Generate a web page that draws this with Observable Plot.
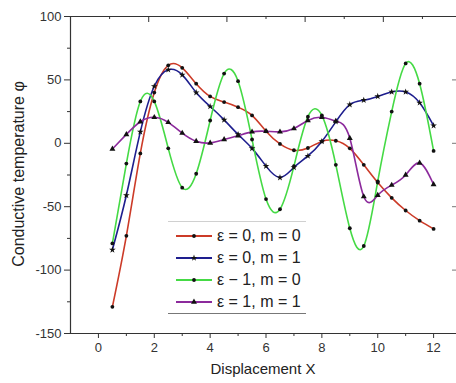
<!DOCTYPE html>
<html>
<head>
<meta charset="utf-8">
<script src="https://cdn.jsdelivr.net/npm/d3@7"></script>
<script src="https://cdn.jsdelivr.net/npm/@observablehq/plot@0.6"></script>
<style>
  html, body { margin: 0; padding: 0; background: #fff; }
  #wrap { position: relative; width: 456px; height: 383px; font-family: "Liberation Sans", Arial, sans-serif; }
  #legend { position: absolute; left: 168px; top: 221px; width: 138px; height: 91px;
            border-top: 1px solid #d0d0d0; border-bottom: 1px solid #777; }
  .row { position: absolute; left: 8px; height: 20px; display: flex; align-items: center; }
  .row span { font-size: 16px; color: #222; margin-left: 5px; white-space: nowrap; }
</style>
</head>
<body>
<div id="wrap"><div id="legend"></div></div>
<script>
// X positions of the sampled points
const xValues = [0.5, 1, 1.5, 2, 2.5, 3, 3.5, 4, 4.5, 5, 5.5, 6, 6.5, 7, 7.5, 8, 8.5, 9, 9.5, 10, 10.5, 11, 11.5, 12];

// Series values
const e0m0 = [-129, -73, -8, 40, 61.5, 59.5, 47, 37, 32.5, 28.5, 22, 9.5, -0.5, -5.5, -3.7, 1.5, 2, -4, -17, -31, -43, -53, -61, -67.5];
const e0m1 = [-84, -41, 9, 45, 58, 54, 40, 29, 18.5, 7, -4, -18, -27, -19, -10, 1.5, 17, 30.5, 34, 37, 40.5, 40.5, 32, 14];
const e1m0 = [-79, -16, 33, 33, -4, -35, -24, 18, 55, 49, 3, -44, -52, -18, 21, 22, -17, -67, -81, -30, 25, 63, 47, -6];
const e1m1 = [-4.5, 7, 17, 20.5, 16.5, 8, 1.6, 0.3, 3, 6, 9, 9.5, 9, 11.6, 18, 20.5, 17.5, 4, -42, -41, -33, -25, -15.5, -32.5];

const seriesNames = ["ε = 0, m = 0", "ε = 0, m = 1", "ε − 1, m = 0", "ε = 1, m = 1"];
const seriesColors = ["#cc3b28", "#1e1e8e", "#45da45", "#8c2a9c"];
const seriesSymbols = ["circle", "star", "circle", "triangle"];
const seriesRadius = [1.9, 2.1, 1.9, 2.2];

const xTicks = [0, 2, 4, 6, 8, 10, 12];
const xMinorTicks = [1, 3, 5, 7, 9, 11];
const yTicks = [-150, -100, -50, 0, 50, 100];
const yMinorTicks = [-125, -75, -25, 25, 75];
const yRightTicks = [-100, -50, 0, 50];
const topMajorTicks = [1.8, 4.6, 7.4, 10.2];
const topMinorTicks = [0.4, 3.2, 6.0, 8.8, 11.6];

const allSeries = [e0m0, e0m1, e1m0, e1m1];
const rows = [];
allSeries.forEach((vals, s) => vals.forEach((v, i) => rows.push({x: xValues[i], y: v, s})));

const font = "Liberation Sans, Arial, sans-serif";
const axisColor = "#333";
const W = 456, H = 383, mT = 16, mB = 50, mL = 70, mR = 0;
const plotH = H - mT - mB, plotW = W - mL - mR;

const marks = [
  Plot.ruleX([-1], {stroke: axisColor, strokeWidth: 1.2}),
  Plot.ruleY([-150], {stroke: axisColor, strokeWidth: 1.2}),
  Plot.ruleY([100], {stroke: axisColor, strokeWidth: 1.2}),
  Plot.axisY({ticks: yTicks, tickSize: 6, tickPadding: 3, fontSize: 13, label: null, color: axisColor, tickFormat: d => d < 0 ? "-" + Math.abs(d) : String(d)}),
  Plot.axisY({ticks: yMinorTicks, tickSize: 3, tickFormat: () => "", label: null, color: axisColor}),
  Plot.axisX({ticks: xTicks, tickSize: 5, tickPadding: 4, fontSize: 13, label: null, color: axisColor}),
  Plot.axisX({ticks: xMinorTicks, tickSize: 3, tickFormat: () => "", label: null, color: axisColor}),
  // inward ticks on the top edge and right edge
  Plot.ruleX(topMajorTicks, {x: d => d, stroke: axisColor, insetBottom: plotH - 6}),
  Plot.ruleX(topMinorTicks, {x: d => d, stroke: axisColor, insetBottom: plotH - 3}),
  Plot.ruleY(yRightTicks, {y: d => d, stroke: "#777", insetLeft: plotW - 4})
];
allSeries.forEach((vals, s) => {
  const d = rows.filter(r => r.s === s);
  marks.push(Plot.line(d, {x: "x", y: "y", stroke: seriesColors[s], strokeWidth: 1.6, curve: "natural"}));
});
allSeries.forEach((vals, s) => {
  const d = rows.filter(r => r.s === s);
  marks.push(Plot.dot(d, {x: "x", y: "y", symbol: seriesSymbols[s], fill: "#111", stroke: "none", r: seriesRadius[s]}));
});

const chart = Plot.plot({
  width: W,
  height: H,
  marginTop: mT,
  marginBottom: mB,
  marginLeft: mL,
  marginRight: mR,
  style: {fontFamily: font, background: "#fff", overflow: "visible"},
  x: {domain: [-1, 12.82]},
  y: {domain: [-150, 100]},
  marks
});

const svgNS = "http://www.w3.org/2000/svg";
// axis titles
const xt = document.createElementNS(svgNS, "text");
xt.setAttribute("x", 263); xt.setAttribute("y", 374);
xt.setAttribute("text-anchor", "middle");
xt.setAttribute("font-size", "15"); xt.setAttribute("fill", "#222");
xt.setAttribute("font-family", font);
xt.textContent = "Displacement X";
chart.appendChild(xt);
const yt = document.createElementNS(svgNS, "text");
yt.setAttribute("transform", "translate(24,174) rotate(-90)");
yt.setAttribute("text-anchor", "middle");
yt.setAttribute("font-size", "16"); yt.setAttribute("fill", "#222");
yt.setAttribute("font-family", font);
yt.textContent = "Conductive temperature φ";
chart.appendChild(yt);

document.getElementById("wrap").prepend(chart);

// legend
const legend = document.getElementById("legend");
seriesNames.forEach((name, s) => {
  const row = document.createElement("div");
  row.className = "row";
  row.style.top = (4 + 22 * s) + "px";
  const sw = document.createElementNS(svgNS, "svg");
  sw.setAttribute("width", 36); sw.setAttribute("height", 12);
  const ln = document.createElementNS(svgNS, "line");
  ln.setAttribute("x1", 0); ln.setAttribute("x2", 36); ln.setAttribute("y1", 6); ln.setAttribute("y2", 6);
  ln.setAttribute("stroke", seriesColors[s]); ln.setAttribute("stroke-width", 1.8);
  sw.appendChild(ln);
  const sym = document.createElementNS(svgNS, "path");
  const symType = {circle: d3.symbolCircle, star: d3.symbolStar, triangle: d3.symbolTriangle}[seriesSymbols[s]];
  const r = seriesRadius[s];
  sym.setAttribute("d", d3.symbol(symType, Math.PI * r * r)());
  sym.setAttribute("transform", "translate(18,6)");
  sym.setAttribute("fill", "#111");
  sw.appendChild(sym);
  row.appendChild(sw);
  const t = document.createElement("span");
  t.textContent = name;
  row.appendChild(t);
  legend.appendChild(row);
});
</script>
</body>
</html>
